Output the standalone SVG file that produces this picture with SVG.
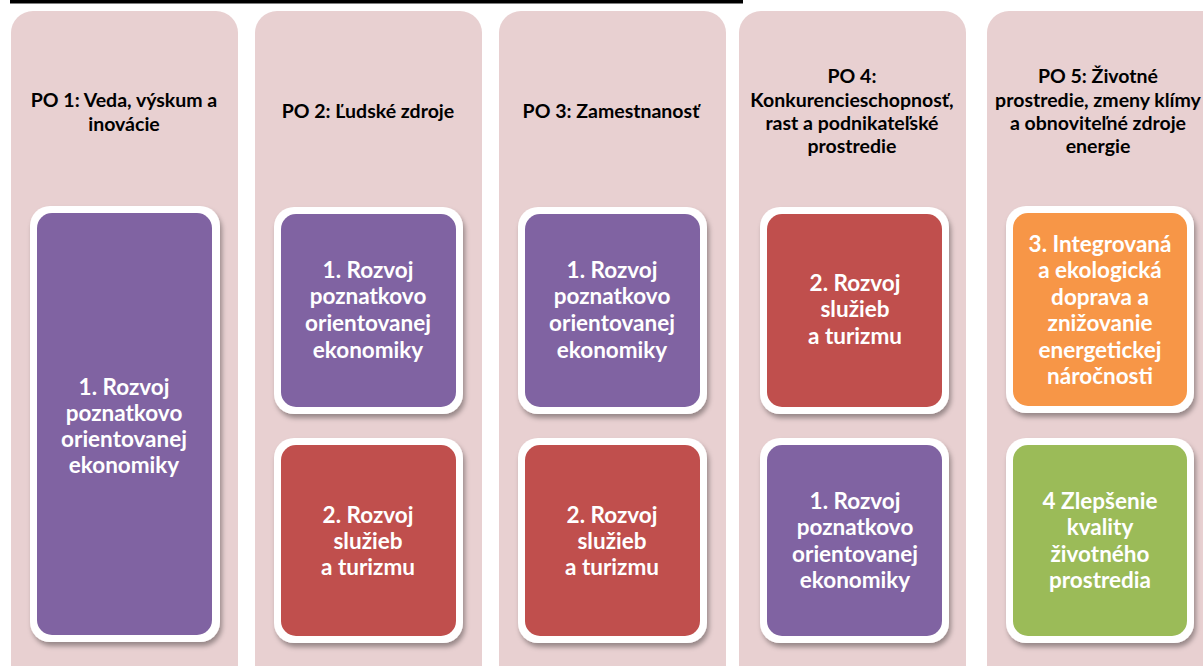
<svg xmlns="http://www.w3.org/2000/svg" width="1203" height="666" viewBox="0 0 1203 666">
<defs>
<style>
.col{fill:#E8D0D1}
.frame{fill:#FFFFFF}
.pu{fill:#8064A2}
.rd{fill:#C0504D}
.or{fill:#F79646}
.gr{fill:#9BBB59}
.h{font-family:Lato,"Liberation Sans",sans-serif;font-weight:bold;font-size:19.5px;fill:#000;text-anchor:middle}
.t{font-family:Lato,"Liberation Sans",sans-serif;font-weight:bold;font-size:22.5px;fill:#FFFFFF;text-anchor:middle}
</style>
<filter id="sh" x="-10%" y="-10%" width="125%" height="125%">
<feDropShadow dx="2" dy="4" stdDeviation="2.5" flood-color="#000" flood-opacity="0.35"/>
</filter>
</defs>
<rect x="0" y="0" width="1203" height="666" fill="#FFFFFF"/>
<rect x="10" y="0" width="733" height="3.5" fill="#000"/>

<g id="col1">
<rect class="col" x="11" y="11" width="227" height="700" rx="22"/>
<text class="h" x="124" y="107">PO 1: Veda, výskum a</text>
<text class="h" x="124" y="131">inovácie</text>
<g id="n1" filter="url(#sh)">
<rect class="frame" x="30" y="206" width="190" height="436" rx="20"/>
<rect class="pu" x="37" y="213" width="175" height="422" rx="15"/>
</g>
<text class="t" x="124" y="395">1. Rozvoj</text>
<text class="t" x="124" y="421">poznatkovo</text>
<text class="t" x="124" y="447">orientovanej</text>
<text class="t" x="124" y="473">ekonomiky</text>
</g>

<g id="col2">
<rect class="col" x="255" y="11" width="227" height="700" rx="22"/>
<text class="h" x="368" y="118">PO 2: Ľudské zdroje</text>
<g id="n2a" filter="url(#sh)">
<rect class="frame" x="274" y="207" width="189" height="207" rx="20"/>
<rect class="pu" x="281" y="214" width="175" height="193" rx="15"/>
</g>
<text class="t" x="368" y="278">1. Rozvoj</text>
<text class="t" x="368" y="304">poznatkovo</text>
<text class="t" x="368" y="331">orientovanej</text>
<text class="t" x="368" y="358">ekonomiky</text>
<g id="n2b" filter="url(#sh)">
<rect class="frame" x="274" y="438" width="189" height="205" rx="20"/>
<rect class="rd" x="281" y="445" width="175" height="191" rx="15"/>
</g>
<text class="t" x="368" y="523">2. Rozvoj</text>
<text class="t" x="368" y="549">služieb</text>
<text class="t" x="368" y="575">a turizmu</text>
</g>

<g id="col3">
<rect class="col" x="499" y="11" width="227" height="700" rx="22"/>
<text class="h" x="611" y="118">PO 3: Zamestnanosť</text>
<g id="n3a" filter="url(#sh)">
<rect class="frame" x="518" y="207" width="189" height="207" rx="20"/>
<rect class="pu" x="525" y="214" width="175" height="193" rx="15"/>
</g>
<text class="t" x="612" y="278">1. Rozvoj</text>
<text class="t" x="612" y="304">poznatkovo</text>
<text class="t" x="612" y="331">orientovanej</text>
<text class="t" x="612" y="358">ekonomiky</text>
<g id="n3b" filter="url(#sh)">
<rect class="frame" x="518" y="438" width="189" height="205" rx="20"/>
<rect class="rd" x="525" y="445" width="175" height="191" rx="15"/>
</g>
<text class="t" x="612" y="523">2. Rozvoj</text>
<text class="t" x="612" y="549">služieb</text>
<text class="t" x="612" y="575">a turizmu</text>
</g>

<g id="col4">
<rect class="col" x="739" y="11" width="227" height="700" rx="22"/>
<text class="h" x="852" y="83">PO 4:</text>
<text class="h" x="852" y="107">Konkurencieschopnosť,</text>
<text class="h" x="852" y="130">rast a podnikateľské</text>
<text class="h" x="852" y="153">prostredie</text>
<g id="n4a" filter="url(#sh)">
<rect class="frame" x="760" y="207" width="189" height="207" rx="20"/>
<rect class="rd" x="767" y="214" width="175" height="193" rx="15"/>
</g>
<text class="t" x="855" y="291">2. Rozvoj</text>
<text class="t" x="855" y="317">služieb</text>
<text class="t" x="855" y="344">a turizmu</text>
<g id="n4b" filter="url(#sh)">
<rect class="frame" x="760" y="438" width="189" height="205" rx="20"/>
<rect class="pu" x="767" y="445" width="175" height="191" rx="15"/>
</g>
<text class="t" x="855" y="509">1. Rozvoj</text>
<text class="t" x="855" y="535">poznatkovo</text>
<text class="t" x="855" y="562">orientovanej</text>
<text class="t" x="855" y="588">ekonomiky</text>
</g>

<g id="col5">
<rect class="col" x="987" y="11" width="240" height="700" rx="22"/>
<text class="h" x="1098" y="83">PO 5: Životné</text>
<text class="h" x="1098" y="107">prostredie, zmeny klímy</text>
<text class="h" x="1098" y="130">a obnoviteľné zdroje</text>
<text class="h" x="1098" y="153">energie</text>
<g id="n5a" filter="url(#sh)">
<rect class="frame" x="1006" y="206" width="188" height="207" rx="20"/>
<rect class="or" x="1013" y="213" width="174" height="193" rx="15"/>
</g>
<text class="t" x="1100" y="252">3. Integrovaná</text>
<text class="t" x="1100" y="278">a ekologická</text>
<text class="t" x="1100" y="305">doprava a</text>
<text class="t" x="1100" y="331">znižovanie</text>
<text class="t" x="1100" y="358">energetickej</text>
<text class="t" x="1100" y="384">náročnosti</text>
<g id="n5b" filter="url(#sh)">
<rect class="frame" x="1006" y="438" width="188" height="205" rx="20"/>
<rect class="gr" x="1013" y="445" width="174" height="191" rx="15"/>
</g>
<text class="t" x="1100" y="509">4 Zlepšenie</text>
<text class="t" x="1100" y="535">kvality</text>
<text class="t" x="1100" y="562">životného</text>
<text class="t" x="1100" y="588">prostredia</text>
</g>
<g id="connectors"/>
</svg>
